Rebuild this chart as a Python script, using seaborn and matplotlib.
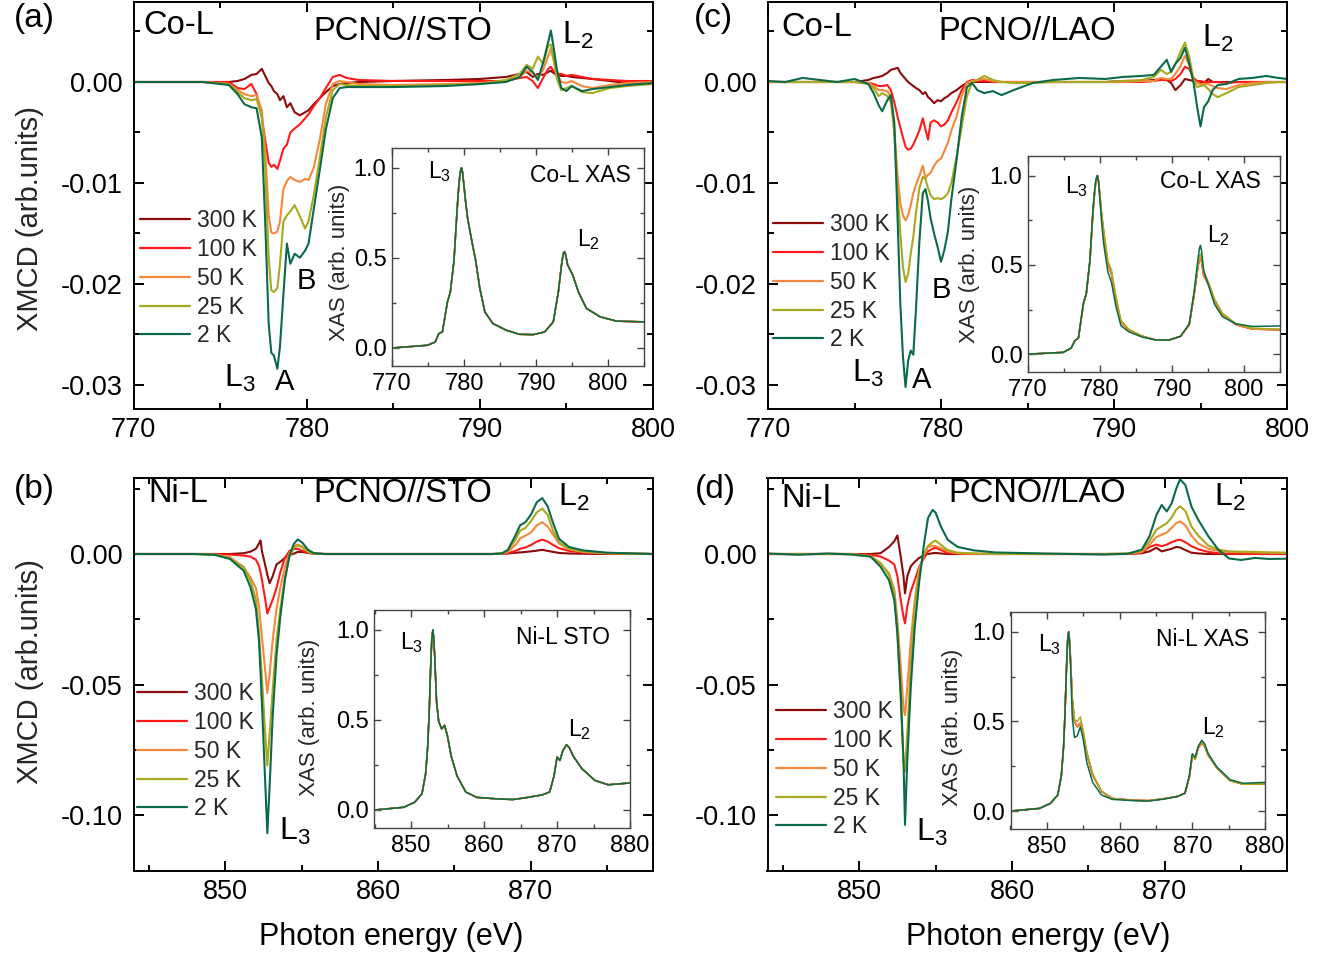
import pandas as pd
import seaborn as sns
import matplotlib.pyplot as plt
from matplotlib.lines import Line2D
from matplotlib.ticker import MultipleLocator, FormatStrFormatter

W, H = 1332, 957

temps = ['300 K', '100 K', '50 K', '25 K', '2 K']
colors = ['#8b0a0a', '#ff1a1a', '#f5883a', '#a9a91f', '#0b6b47']

# ---- Co-L XMCD, PCNO//STO
e_co_sto = [770, 774, 775.5, 776.0, 776.4, 776.8, 777.1, 777.4, 777.6, 777.8,
            777.95, 778.1, 778.3, 778.45, 778.65, 778.85, 779.05, 779.3, 779.6, 779.9,
            780.1, 780.4, 780.75, 781.1, 781.5, 781.9, 782.3, 783, 785, 788,
            790, 791.5, 792.3, 792.7, 793.05, 793.35, 793.65, 793.95, 794.1, 794.25,
            794.45, 794.7, 795.0, 795.3, 795.9, 796.5, 797.5, 798.5, 800]
co_sto_2k = [0, 0, -0.0003, -0.0012, -0.0022, -0.0025, -0.0026, -0.0055, -0.0140, -0.0240,
             -0.0268, -0.0271, -0.0284, -0.0262, -0.0210, -0.0160, -0.0180, -0.0170, -0.0174, -0.0167,
             -0.0160, -0.0126, -0.0087, -0.0047, -0.0016, -0.0006, -0.0005, -0.0005, -0.0005, -0.0004,
             -0.0002, 0.0000, 0.0005, 0.0015, 0.0010, 0.0002, 0.0019, 0.0040, 0.0051, 0.0035,
             0.0012, -0.0006, -0.0009, -0.0004, -0.0009, -0.0007, -0.0005, -0.0003, -0.0001]
co_sto_25k = [0, 0, -0.0002, -0.0010, -0.0016, -0.0018, -0.0017, -0.0034, -0.0085, -0.0175,
              -0.0206, -0.0208, -0.0204, -0.0180, -0.0138, -0.0132, -0.0128, -0.0122, -0.0133, -0.0145,
              -0.0138, -0.0112, -0.0075, -0.0035, -0.0008, -0.0002, -0.0003, -0.0004, -0.0004, -0.0003,
              -0.0002, 0.0002, 0.0008, 0.0017, 0.0013, 0.0025, 0.0018, 0.0036, 0.0037, 0.0024,
              0.0003, -0.0008, -0.0006, -0.0004, -0.0010, -0.0011, -0.0006, -0.0004, -0.0002]
co_sto_50k = [0, 0, -0.0002, -0.0008, -0.0012, -0.0014, -0.0013, -0.0028, -0.0070, -0.0132,
              -0.0149, -0.0150, -0.0148, -0.0138, -0.0106, -0.0098, -0.0094, -0.0097, -0.0099, -0.0096,
              -0.0097, -0.0085, -0.0057, -0.0022, -0.0002, 0.0001, 0.0000, -0.0002, -0.0003, -0.0002,
              -0.0001, 0.0001, 0.0005, 0.0011, 0.0009, 0.0004, 0.0012, 0.0026, 0.0033, 0.0022,
              0.0008, 0.0000, -0.0001, 0.0001, -0.0004, -0.0006, -0.0003, -0.0001, 0.0000]
co_sto_100k = [0, 0, 0.0000, -0.0006, -0.0007, -0.0002, -0.0012, -0.0035, -0.0058, -0.0080,
               -0.0084, -0.0082, -0.0086, -0.0078, -0.0066, -0.0062, -0.0050, -0.0046, -0.0042, -0.0036,
               -0.0032, -0.0024, -0.0016, -0.0006, 0.0005, 0.0007, 0.0004, 0.0002, 0.0001, 0.0001,
               0.0001, 0.0001, 0.0004, 0.0005, 0.0001, -0.0006, 0.0004, 0.0013, 0.0015, 0.0011,
               0.0008, 0.0008, 0.0006, 0.0007, 0.0005, 0.0003, 0.0002, 0.0001, 0.0001]
co_sto_300k = [0, 0, 0.0000, 0.0001, 0.0003, 0.0007, 0.0008, 0.0013, 0.0006, -0.0001,
               -0.0004, -0.0009, -0.0012, -0.0018, -0.0014, -0.0025, -0.0021, -0.0030, -0.0033, -0.0030,
               -0.0028, -0.0022, -0.0016, -0.0010, -0.0004, -0.0002, -0.0001, 0.0000, 0.0001, 0.0002,
               0.0003, 0.0005, 0.0008, 0.0010, 0.0005, 0.0008, 0.0007, 0.0010, 0.0011, 0.0009,
               0.0007, 0.0006, 0.0006, 0.0005, 0.0004, 0.0003, 0.0001, -0.0001, -0.0001]

# ---- Co-L XMCD, PCNO//LAO
e_co_lao = [770, 771, 772, 773, 774, 775, 775.8, 776.1, 776.4, 776.6,
            776.9, 777.1, 777.3, 777.5, 777.65, 777.8, 777.95, 778.1, 778.25, 778.4,
            778.55, 778.75, 778.95, 779.1, 779.25, 779.4, 779.6, 779.8, 780.0, 780.2,
            780.4, 780.6, 780.9, 781.2, 781.5, 781.8, 782.1, 782.5, 783.0, 783.5,
            784.2, 785.3, 786.5, 788, 789.5, 790.5, 791.6, 792.3, 792.7, 793.05,
            793.3, 793.55, 793.85, 794.1, 794.35, 794.6, 794.8, 795.0, 795.2, 795.45,
            795.7, 796.0, 796.5, 797.2, 798, 798.8, 799.5, 800]
co_lao_2k = [0.0001, 0.0000, 0.0004, 0.0002, 0.0000, 0.0003, -0.0002, -0.0011, -0.0023, -0.0029,
             -0.0018, -0.0013, -0.0040, -0.0140, -0.0220, -0.0272, -0.0302, -0.0276, -0.0266, -0.0270,
             -0.0226, -0.0158, -0.0110, -0.0106, -0.0118, -0.0135, -0.0150, -0.0163, -0.0178, -0.0166,
             -0.0148, -0.0116, -0.0077, -0.0034, -0.0005, -0.0001, -0.0008, -0.0011, -0.0009, -0.0013,
             -0.0008, -0.0001, 0.0002, 0.0004, 0.0003, 0.0005, 0.0006, 0.0007, 0.0015, 0.0022,
             0.0010, 0.0018, 0.0024, 0.0034, 0.0018, -0.0001, -0.0024, -0.0044, -0.0025, -0.0019,
             -0.0008, -0.0003, -0.0002, 0.0003, 0.0004, 0.0006, 0.0004, 0.0003]
co_lao_25k = [0, 0, 0, 0, 0, 0, -0.0002, -0.0006, -0.0014, -0.0011,
              -0.0014, -0.0020, -0.0050, -0.0110, -0.0150, -0.0183, -0.0198, -0.0190, -0.0170, -0.0153,
              -0.0130, -0.0105, -0.0094, -0.0096, -0.0105, -0.0112, -0.0116, -0.0115, -0.0116, -0.0114,
              -0.0110, -0.0100, -0.0074, -0.0044, -0.0014, 0.0000, 0.0002, 0.0006, 0.0002, 0.0000,
              -0.0001, -0.0001, 0.0000, 0.0000, 0.0000, 0.0001, 0.0002, 0.0005, 0.0012, 0.0008,
              0.0010, 0.0018, 0.0030, 0.0039, 0.0025, 0.0002, -0.0005, -0.0004, -0.0003, -0.0007,
              -0.0012, -0.0015, -0.0011, -0.0005, -0.0003, -0.0001, 0.0000, 0.0000]
co_lao_50k = [0, 0, 0, 0, 0, 0, -0.0001, -0.0004, -0.0008, -0.0008,
              -0.0009, -0.0015, -0.0045, -0.0095, -0.0120, -0.0132, -0.0137, -0.0132, -0.0122, -0.0110,
              -0.0102, -0.0093, -0.0083, -0.0095, -0.0092, -0.0090, -0.0083, -0.0078, -0.0076, -0.0068,
              -0.0060, -0.0048, -0.0034, -0.0014, -0.0001, 0.0001, 0.0002, 0.0003, 0.0001, 0.0000,
              0.0000, 0.0000, 0.0000, 0.0000, 0.0000, 0.0000, 0.0001, 0.0001, 0.0004, 0.0003,
              0.0003, 0.0008, 0.0016, 0.0026, 0.0017, 0.0002, -0.0001, -0.0002, -0.0002, -0.0002,
              -0.0004, -0.0006, -0.0007, -0.0003, -0.0001, 0.0000, 0.0000, 0.0000]
co_lao_100k = [0, 0, 0, 0, 0, 0, -0.0001, -0.0002, -0.0004, -0.0004,
               -0.0003, -0.0008, -0.0020, -0.0035, -0.0045, -0.0055, -0.0064, -0.0067, -0.0066, -0.0062,
               -0.0056, -0.0048, -0.0036, -0.0047, -0.0057, -0.0040, -0.0038, -0.0040, -0.0044, -0.0042,
               -0.0038, -0.0030, -0.0020, -0.0008, 0.0000, 0.0002, 0.0001, 0.0001, 0.0000, 0.0000,
               0.0000, 0.0000, 0.0000, 0.0000, 0.0000, 0.0000, 0.0000, 0.0001, 0.0002, 0.0002,
               0.0001, 0.0003, 0.0008, 0.0015, 0.0013, 0.0004, 0.0001, 0.0001, 0.0000, 0.0000,
               0.0000, 0.0000, -0.0001, 0.0000, 0.0000, 0.0000, 0.0000, 0.0000]
co_lao_300k = [0, 0, 0, 0, 0, 0, 0.0002, 0.0004, 0.0005, 0.0006,
               0.0009, 0.0012, 0.0013, 0.0014, 0.0009, 0.0006, 0.0003, 0.0000, -0.0002, -0.0004,
               -0.0006, -0.0008, -0.0012, -0.0010, -0.0015, -0.0017, -0.0021, -0.0018, -0.0019, -0.0016,
               -0.0014, -0.0011, -0.0008, -0.0004, -0.0001, 0.0000, 0.0000, 0.0000, 0.0000, 0.0000,
               0.0000, 0.0000, 0.0000, 0.0000, 0.0000, 0.0001, 0.0001, 0.0002, 0.0003, 0.0002,
               -0.0001, -0.0008, -0.0003, 0.0003, 0.0002, 0.0001, 0.0001, 0.0000, -0.0001, 0.0003,
               0.0000, 0.0000, 0.0000, 0.0000, 0.0000, 0.0000, 0.0000, 0.0000]

# ---- Ni-L XMCD, PCNO//STO
e_ni_sto = [844, 848, 849.3, 850.3, 851.2, 851.65, 852.0, 852.2, 852.3, 852.4,
            852.6, 852.75, 852.9, 853.1, 853.35, 853.6, 853.9, 854.2, 854.5, 854.75,
            855.05, 855.4, 855.8, 856.5, 858, 862, 866, 867.5, 868.1, 868.5,
            869.0, 869.3, 869.65, 870.0, 870.4, 870.75, 871.1, 871.45, 871.85, 872.5,
            873.4, 875, 878]
ni_sto_2k = [0, 0, -0.0003, -0.0019, -0.0064, -0.0128, -0.0210, -0.0330, -0.0450, -0.0580,
             -0.0860, -0.1070, -0.0890, -0.0620, -0.0390, -0.0240, -0.0100, -0.0005, 0.0040, 0.0056,
             0.0043, 0.0017, 0.0003, 0, 0, 0, 0, 0, 0.0002, 0.0016,
             0.0072, 0.0110, 0.0122, 0.0150, 0.0199, 0.0214, 0.0183, 0.0120, 0.0058, 0.0027,
             0.0014, 0.0005, 0]
ni_sto_25k = [0, 0, -0.0003, -0.0017, -0.0051, -0.0102, -0.0175, -0.0300, -0.0390, -0.0480,
              -0.0680, -0.0810, -0.0690, -0.0520, -0.0330, -0.0210, -0.0090, -0.0010, 0.0025, 0.0033,
              0.0025, 0.0008, 0.0001, 0, 0, 0, 0, 0, 0.0002, 0.0012,
              0.0055, 0.0090, 0.0100, 0.0125, 0.0160, 0.0174, 0.0150, 0.0090, 0.0045, 0.0020,
              0.0010, 0.0004, 0]
ni_sto_50k = [0, 0, -0.0002, -0.0012, -0.0050, -0.0090, -0.0130, -0.0200, -0.0260, -0.0320,
              -0.0440, -0.0533, -0.0460, -0.0330, -0.0210, -0.0130, -0.0050, 0.0005, 0.0030, 0.0036,
              0.0028, 0.0012, 0.0002, 0, 0, 0, 0, 0, 0.0001, 0.0008,
              0.0035, 0.0060, 0.0070, 0.0082, 0.0110, 0.0122, 0.0105, 0.0075, 0.0040, 0.0018,
              0.0008, 0.0002, 0]
ni_sto_100k = [0, 0, 0, -0.0002, -0.0006, -0.0010, -0.0022, -0.0045, -0.0070, -0.0100,
               -0.0170, -0.0228, -0.0205, -0.0175, -0.0130, -0.0070, -0.0015, 0.0012, 0.0019, 0.0020,
               0.0012, 0.0005, 0.0001, 0, 0, 0, 0, 0, 0.0001, 0.0003,
               0.0012, 0.0020, 0.0025, 0.0034, 0.0048, 0.0055, 0.0048, 0.0035, 0.0022, 0.0012,
               0.0006, 0.0002, 0]
ni_sto_300k = [0, 0, 0, 0, 0.0003, 0.0009, 0.0020, 0.0040, 0.0052, 0.0010,
               -0.0040, -0.0080, -0.0112, -0.0085, -0.0040, -0.0030, -0.0015, -0.0005, 0.0002, 0.0008,
               0.0008, 0.0004, 0.0002, 0, 0, 0, 0, 0, 0.0001, 0.0002,
               0.0005, 0.0006, 0.0008, 0.0010, 0.0013, 0.0016, 0.0012, 0.0008, 0.0004, 0.0002,
               0.0001, 0, 0]

# ---- Ni-L XMCD, PCNO//LAO
e_ni_lao = [844, 846, 848, 849.5, 850.75, 851.4, 851.95, 852.3, 852.5, 852.72,
            852.9, 853.0, 853.15, 853.38, 853.64, 853.92, 854.25, 854.5, 854.8, 855.0,
            855.35, 855.8, 856.45, 857.5, 858.9, 862, 866, 867.6, 868.5, 869.0,
            869.45, 869.8, 870.13, 870.45, 870.75, 871.0, 871.35, 871.75, 872.2, 872.85,
            873.5, 874.2, 875.0, 875.9, 876.8, 878]
ni_lao_2k = [0.0002, -0.0003, 0.0002, -0.0002, -0.0010, -0.0049, -0.0100, -0.0176, -0.0303, -0.0533,
             -0.0789, -0.1038, -0.0789, -0.0507, -0.0277, -0.0111, 0.0041, 0.0137, 0.0169, 0.0159,
             0.0105, 0.0054, 0.0027, 0.0014, 0.0006, 0.0002, -0.0002, 0.0001, 0.0017, 0.0068,
             0.0149, 0.0188, 0.0163, 0.0194, 0.0250, 0.0286, 0.0264, 0.0181, 0.0130, 0.0068,
             0.0017, -0.0017, -0.0023, -0.0015, -0.0019, -0.0018]
ni_lao_25k = [0, 0, 0, 0, -0.0008, -0.0034, -0.0080, -0.0150, -0.0300, -0.0560,
              -0.0800, -0.0834, -0.0690, -0.0420, -0.0200, -0.0070, 0.0000, 0.0030, 0.0046, 0.0051,
              0.0035, 0.0015, 0.0005, 0.0002, 0.0001, 0, 0, 0.0002, 0.0012, 0.0049,
              0.0093, 0.0106, 0.0118, 0.0140, 0.0170, 0.0183, 0.0165, 0.0105, 0.0070, 0.0032,
              0.0017, 0.0010, 0.0009, 0.0008, 0.0006, 0.0005]
ni_lao_50k = [0, 0, 0, 0, -0.0010, -0.0038, -0.0073, -0.0137, -0.0252, -0.0431,
              -0.0590, -0.0617, -0.0508, -0.0330, -0.0176, -0.0060, 0.0000, 0.0027, 0.0032, 0.0030,
              0.0022, 0.0010, 0.0003, 0.0001, 0, 0, 0, 0.0001, 0.0008, 0.0035,
              0.0065, 0.0074, 0.0082, 0.0100, 0.0118, 0.0125, 0.0110, 0.0070, 0.0040, 0.0020,
              0.0012, 0.0008, 0.0007, 0.0006, 0.0005, 0.0004]
ni_lao_100k = [0, 0, 0, 0, -0.0003, -0.0010, -0.0025, -0.0040, -0.0085, -0.0176,
               -0.0240, -0.0266, -0.0200, -0.0143, -0.0100, -0.0050, -0.0015, 0.0010, 0.0020, 0.0024,
               0.0015, 0.0004, 0.0001, 0, 0, 0, 0, 0, 0.0005, 0.0027,
               0.0036, 0.0030, 0.0036, 0.0045, 0.0052, 0.0055, 0.0045, 0.0030, 0.0018, 0.0008,
               0.0003, 0.0001, 0.0001, 0, 0, 0]
ni_lao_300k = [0, 0, 0, 0, 0, 0.0003, 0.0027, 0.0049, 0.0071, -0.0010,
               -0.0085, -0.0151, -0.0085, -0.0047, -0.0030, -0.0015, -0.0005, 0.0000, 0.0003, 0.0004,
               0.0002, 0.0000, 0, 0, 0, 0, 0, 0, 0.0003, 0.0010,
               0.0024, 0.0010, 0.0015, 0.0020, 0.0027, 0.0025, 0.0015, 0.0005, 0.0002, 0,
               0, 0, 0, 0, 0, 0]

# ---- XAS insets
e_xas_co = [770, 774.9, 776.0, 776.5, 777.0, 777.7, 778.1, 778.6, 779.0, 779.2,
            779.4, 779.55, 779.65, 779.8, 780.0, 780.2, 780.5, 781.1, 781.6, 782.2,
            782.9, 784.0, 785.9, 787.7, 789.6, 791.2, 792.4, 793.1, 793.6, 793.8,
            793.95, 794.1, 794.4, 795.1, 795.9, 797.0, 798.9, 801.2, 805]
xas_co_sto = [0, 0.015, 0.033, 0.08, 0.089, 0.256, 0.31, 0.48, 0.74, 0.86,
              0.95, 0.99, 1.0, 0.975, 0.90, 0.82, 0.72, 0.59, 0.49, 0.33,
              0.2, 0.136, 0.098, 0.076, 0.074, 0.089, 0.145, 0.31, 0.48, 0.525,
              0.535, 0.52, 0.46, 0.405, 0.31, 0.22, 0.173, 0.149, 0.145]
xas_co_lao = [0, 0.01, 0.034, 0.075, 0.09, 0.28, 0.34, 0.52, 0.78, 0.88,
              0.96, 0.99, 1.0, 0.97, 0.88, 0.79, 0.68, 0.50, 0.45, 0.31,
              0.18, 0.135, 0.10, 0.08, 0.079, 0.10, 0.165, 0.34, 0.49, 0.53,
              0.54, 0.52, 0.44, 0.39, 0.30, 0.22, 0.165, 0.14, 0.137]
xas_co_lao_25k = [0, 0.01, 0.034, 0.075, 0.09, 0.28, 0.34, 0.52, 0.78, 0.88,
                  0.96, 0.99, 1.0, 0.97, 0.89, 0.80, 0.70, 0.52, 0.47, 0.33,
                  0.19, 0.14, 0.10, 0.08, 0.079, 0.10, 0.17, 0.35, 0.50, 0.55,
                  0.56, 0.54, 0.46, 0.40, 0.31, 0.23, 0.17, 0.145, 0.14]
xas_co_lao_2k = [0, 0.01, 0.034, 0.075, 0.09, 0.29, 0.34, 0.53, 0.80, 0.90,
                 0.97, 0.995, 1.0, 0.96, 0.86, 0.75, 0.62, 0.46, 0.40, 0.27,
                 0.16, 0.125, 0.095, 0.08, 0.079, 0.10, 0.17, 0.36, 0.53, 0.59,
                 0.61, 0.58, 0.47, 0.38, 0.28, 0.21, 0.17, 0.155, 0.158]

e_xas_ni = [845, 849, 850.5, 851.5, 852.0, 852.3, 852.5, 852.7, 852.85, 853.0,
            853.12, 853.25, 853.5, 853.8, 854.2, 854.6, 855.0, 855.5, 856.3, 857.5,
            859, 862, 864, 866, 868, 869, 869.6, 870.0, 870.4, 870.8,
            871.3, 871.7, 872.2, 873.4, 875.2, 877, 880]
xas_ni_sto = [0, 0.015, 0.043, 0.09, 0.2, 0.36, 0.55, 0.8, 0.95, 1.0,
              0.95, 0.85, 0.6, 0.49, 0.45, 0.47, 0.41, 0.3, 0.19, 0.1,
              0.07, 0.061, 0.058, 0.07, 0.084, 0.1, 0.19, 0.294, 0.275, 0.33,
              0.362, 0.345, 0.30, 0.23, 0.164, 0.14, 0.15]
xas_ni_lao = [0, 0.015, 0.043, 0.09, 0.2, 0.36, 0.55, 0.8, 0.95, 1.0,
              0.95, 0.85, 0.62, 0.50, 0.47, 0.49, 0.43, 0.32, 0.20, 0.11,
              0.07, 0.06, 0.058, 0.068, 0.082, 0.1, 0.19, 0.31, 0.29, 0.35,
              0.38, 0.36, 0.31, 0.24, 0.17, 0.15, 0.15]
xas_ni_lao_25k = [0, 0.015, 0.043, 0.09, 0.2, 0.36, 0.55, 0.8, 0.95, 1.0,
                  0.95, 0.85, 0.63, 0.51, 0.50, 0.525, 0.45, 0.33, 0.21, 0.11,
                  0.07, 0.06, 0.058, 0.068, 0.082, 0.1, 0.19, 0.31, 0.29, 0.355,
                  0.385, 0.365, 0.31, 0.24, 0.17, 0.15, 0.152]
xas_ni_lao_2k = [0, 0.015, 0.043, 0.09, 0.2, 0.36, 0.55, 0.8, 0.95, 1.0,
                 0.93, 0.82, 0.52, 0.41, 0.42, 0.47, 0.40, 0.27, 0.16, 0.09,
                 0.065, 0.058, 0.056, 0.066, 0.082, 0.1, 0.2, 0.32, 0.30, 0.36,
                 0.395, 0.375, 0.32, 0.245, 0.175, 0.155, 0.16]


def long_table(energy, curves):
    parts = [pd.DataFrame({'E': energy, 'v': vals, 'T': t}) for t, vals in zip(temps, curves)]
    return pd.concat(parts, ignore_index=True)


def rect(l, t, r, b):
    return [l / W, 1 - b / H, (r - l) / W, (b - t) / H]


sns.set_theme(style='ticks')
plt.rcParams['font.family'] = ['Liberation Sans', 'DejaVu Sans']
plt.rcParams['mathtext.fontset'] = 'custom'
plt.rcParams['mathtext.rm'] = 'Liberation Sans'
plt.rcParams['mathtext.it'] = 'Liberation Sans:italic'
plt.rcParams['axes.unicode_minus'] = False

fig = plt.figure(figsize=(W / 100, H / 100), dpi=100)


def ftext(x, y, s, size):
    fig.text(x / W, 1 - y / H, s, fontsize=size, ha='center', va='center', color='black')


def draw(ax, df, lw):
    sns.lineplot(data=df, x='E', y='v', hue='T', hue_order=temps, palette=colors,
                 estimator=None, sort=False, lw=lw, legend=False, ax=ax)
    ax.set_xlabel('')
    ax.set_ylabel('')


def style(ax, xlim, ylim, xmaj, ymaj, fmt, size, major, minor, lw, pad_x, pad_y, col='black'):
    ax.set_xlim(*xlim)
    ax.set_ylim(*ylim)
    ax.xaxis.set_major_locator(MultipleLocator(xmaj))
    ax.xaxis.set_minor_locator(MultipleLocator(xmaj / 2))
    ax.yaxis.set_major_locator(MultipleLocator(ymaj))
    ax.yaxis.set_minor_locator(MultipleLocator(ymaj / 2))
    ax.yaxis.set_major_formatter(FormatStrFormatter(fmt))
    ax.tick_params(which='both', direction='in', top=True, right=True, width=lw, color=col,
                   labelsize=size, labelcolor='black')
    ax.tick_params(axis='x', which='both', pad=pad_x)
    ax.tick_params(axis='y', which='both', pad=pad_y)
    ax.tick_params(which='major', length=major)
    ax.tick_params(which='minor', length=minor)
    for sp in ax.spines.values():
        sp.set_linewidth(lw)
        sp.set_color(col)


def legend(ax, x, y):
    handles = [Line2D([], [], color=c, lw=1.6) for c in colors]
    ax.legend(handles, temps, loc='upper left', bbox_to_anchor=(x / W, 1 - y / H),
              bbox_transform=fig.transFigure, frameon=False, fontsize=16.5,
              handlelength=2.2, handletextpad=0.3, labelspacing=0.255,
              borderpad=0, borderaxespad=0)


co_ylim = ((82 - 409) / 10100, (82 - 1.5) / 10100)
ni_ylim = ((554 - 871) / 2610, (554 - 478) / 2610)

panels = [
    # main rect, energy, curves, xlim, ylim, y major, legend corner
    (rect(133.7, 1.5, 653, 409), e_co_sto, [co_sto_300k, co_sto_100k, co_sto_50k, co_sto_25k, co_sto_2k],
     (770, 800), co_ylim, 0.01, (140, 209)),
    (rect(133.7, 478, 653, 871), e_ni_sto, [ni_sto_300k, ni_sto_100k, ni_sto_50k, ni_sto_25k, ni_sto_2k],
     (844, 878), ni_ylim, 0.05, (137, 682)),
    (rect(768, 1.5, 1287, 409), e_co_lao, [co_lao_300k, co_lao_100k, co_lao_50k, co_lao_25k, co_lao_2k],
     (770, 800), co_ylim, 0.01, (773, 213)),
    (rect(767.5, 478, 1287, 871), e_ni_lao, [ni_lao_300k, ni_lao_100k, ni_lao_50k, ni_lao_25k, ni_lao_2k],
     (844, 878), ni_ylim, 0.05, (776, 700)),
]

for r, energy, curves, xlim, ylim, ymaj, leg in panels:
    ax = fig.add_axes(r)
    draw(ax, long_table(energy, curves), 1.5)
    style(ax, xlim, ylim, 10, ymaj, '%.2f', 19.5, 7, 4, 1.4, 6, 8)
    legend(ax, *leg)

insets = [
    (rect(392, 148, 644, 366), e_xas_co, [xas_co_sto] * 5, (770, 805)),
    (rect(374.5, 610, 630, 828), e_xas_ni, [xas_ni_sto] * 5, (845, 880)),
    (rect(1028, 156, 1280, 372), e_xas_co, [xas_co_lao, xas_co_lao, xas_co_lao, xas_co_lao_25k, xas_co_lao_2k],
     (770, 805)),
    (rect(1010.5, 612, 1265, 829), e_xas_ni, [xas_ni_lao, xas_ni_lao, xas_ni_lao, xas_ni_lao_25k, xas_ni_lao_2k],
     (845, 880)),
]

for r, energy, curves, xlim in insets:
    ax = fig.add_axes(r)
    draw(ax, long_table(energy, curves), 1.1)
    style(ax, xlim, (-0.1, 1.11), 10, 0.5, '%.1f', 17, 5, 3, 1.0, 5, 4, col='#444444')

# panel letters and labels
for s, x, y in [('(a)', 34, 19), ('(b)', 34, 490), ('(c)', 713, 19), ('(d)', 715, 490)]:
    ftext(x, y, s, 24)

ftext(179, 26, 'Co-L', 23.5)
ftext(403, 32, 'PCNO//STO', 23.5)
ftext(578, 35, 'L$_2$', 23)
ftext(306, 281, 'B', 21)
ftext(240, 378, 'L$_3$', 23)
ftext(285, 382, 'A', 21)

ftext(178, 494, 'Ni-L', 23.5)
ftext(403, 494, 'PCNO//STO', 23.5)
ftext(574, 497, 'L$_2$', 23)
ftext(295, 831, 'L$_3$', 23)

ftext(817, 27, 'Co-L', 23.5)
ftext(1027, 32, 'PCNO//LAO', 23.5)
ftext(1218, 38, 'L$_2$', 23)
ftext(941, 290, 'B', 21)
ftext(868, 373, 'L$_3$', 23)
ftext(922, 380, 'A', 21)

ftext(811, 498, 'Ni-L', 23.5)
ftext(1037, 494, 'PCNO//LAO', 23.5)
ftext(1230, 497, 'L$_2$', 23)
ftext(932, 832, 'L$_3$', 23)

# inset texts
ftext(440, 172, 'L$_3$', 16.5)
ftext(580, 175, 'Co-L XAS', 16.5)
ftext(588, 240, 'L$_2$', 16.5)
ftext(1077, 187, 'L$_3$', 16.5)
ftext(1210, 181, 'Co-L XAS', 16.5)
ftext(1218, 236, 'L$_2$', 16.5)
ftext(412, 643, 'L$_3$', 16.5)
ftext(563, 637, 'Ni-L STO', 16.5)
ftext(579, 730, 'L$_2$', 16.5)
ftext(1050, 645, 'L$_3$', 16.5)
ftext(1203, 640, 'Ni-L XAS', 16.5)
ftext(1213, 728, 'L$_2$', 16.5)

for x, y in [(340, 262), (310, 717), (969, 264), (953, 727)]:
    fig.text(x / W, 1 - y / H, 'XAS (arb. units)', fontsize=16, rotation=90, ha='center', va='center')

for y in [219, 672]:
    fig.text(30 / W, 1 - y / H, 'XMCD (arb.units)', fontsize=21, rotation=90, ha='center', va='center')
for x in [391, 1038]:
    ftext(x, 937, 'Photon energy (eV)', 22)

fig.savefig('out.png', dpi=100)
